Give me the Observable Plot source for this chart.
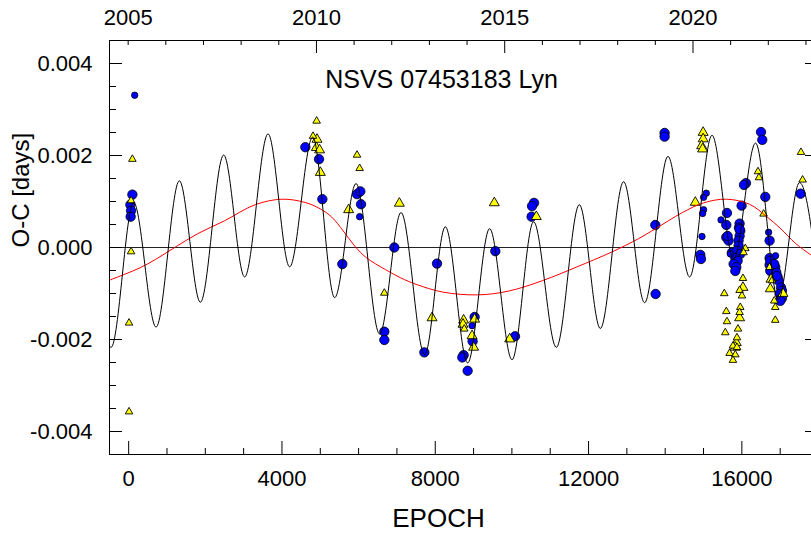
<!DOCTYPE html>
<html>
<head>
<meta charset="utf-8">
<script src="https://cdn.jsdelivr.net/npm/d3@7"></script>
<script src="https://cdn.jsdelivr.net/npm/@observablehq/plot@0.6"></script>
<style>
  html, body { margin: 0; padding: 0; background: #fff; }
  #chart svg { display: block; }
</style>
</head>
<body>
<div id="chart"></div>
<script>
// O-C diagram of NSVS 07453183 Lyn: [epoch, O-C in days]

// primary minima, main observations
const primaryMain = [
  [97, 0.00115], [44, 0.00093], [63, 0.00080], [52, 0.00067],
  [4610, 0.00218], [4967, 0.00192], [5054, 0.00105],
  [5959, 0.00116], [6045, 0.00122], [6063, 0.00094],
  [5575, -0.00036], [6671, -0.00183], [6671, -0.00201],
  [6932, 0.00000], [9567, -0.00008],
  [10577, 0.00097], [10525, 0.00090], [10514, 0.00067],
  [13742, 0.00049], [13984, 0.00249], [13984, 0.00241],
  [8046, -0.00035], [7715, -0.00228], [9027, -0.00151], [8975, -0.00204],
  [8740, -0.00234], [8706, -0.00239], [8845, -0.00268],
  [10081, -0.00193], [13750, -0.00101],
  [16500, 0.00251], [16533, 0.00234], [17533, 0.00117], [16611, 0.00110],
  [16108, 0.00140], [16056, 0.00136], [15993, 0.00091],
  [15612, 0.00075], [15594, 0.00049], [15941, 0.00052], [15925, 0.00043],
  [14916, -0.00016], [14934, -0.00025], [16724, 0.00015],
  [15959, 0.00036], [15941, 0.00025], [15915, 0.00015], [15594, 0.00022],
  [15654, 0.00015], [15915, 0.00004], [15742, -0.00011], [15873, -0.00007],
  [15959, -0.00014], [15829, -0.00023], [15889, -0.00029], [15785, -0.00036],
  [15855, -0.00043], [15829, -0.00051], [15941, 0.00040], [15628, 0.00025],
  [16724, -0.00023], [16786, -0.00033], [16724, -0.00038], [16872, -0.00043],
  [16742, -0.00051], [16898, -0.00054], [16932, -0.00064], [16828, -0.00065],
  [16959, -0.00072], [17021, -0.00087], [17047, -0.00094], [16985, -0.00101],
  [17047, -0.00110], [17003, -0.00116], [16742, -0.00029], [16846, -0.00036],
  [16916, -0.00062]
];

// primary minima, lower weight
const primaryLow = [
  [157, 0.00331], [6027, 0.00067], [8960, -0.00170], [15072, 0.00118],
  [15002, 0.00109], [15002, 0.00082], [14976, 0.00074], [15456, 0.00060],
  [14960, 0.00024], [16698, 0.00033], [16880, -0.00018], [15698, -0.00014]
];

// secondary minima, main observations
const secondaryMain = [
  [4915, 0.00235], [4897, 0.00217], [4983, 0.00212], [5001, 0.00163],
  [5740, 0.00082], [7063, 0.00096], [9541, 0.00097], [10637, 0.00067],
  [7916, -0.00153], [8740, -0.00158], [8724, -0.00167], [9027, -0.00156],
  [8960, -0.00192], [9001, -0.00217], [9941, -0.00199],
  [14990, 0.00250], [14990, 0.00236], [14950, 0.00221], [14976, 0.00214],
  [14785, 0.00098], [16760, -0.00069], [16742, -0.00090], [17073, -0.00100],
  [16029, -0.00087], [15941, -0.00153], [15855, -0.00207], [15829, -0.00217]
];

// secondary minima, lower weight
const secondaryLow = [
  [97, 0.00192], [63, 0.00102], [63, -0.00009], [10, -0.00164], [10, -0.00357],
  [4905, 0.00275], [4811, 0.00242], [5959, 0.00201], [6027, 0.00172],
  [6671, -0.00099], [8758, -0.00177], [17543, 0.00207], [17585, 0.00147],
  [16421, 0.00165], [16447, 0.00152], [16567, 0.00073], [16090, -0.00002],
  [16045, -0.00011], [16029, -0.00067], [15941, -0.00093], [16003, -0.00105],
  [15542, -0.00100], [15594, -0.00139], [15612, -0.00161], [15568, -0.00185],
  [15959, -0.00130], [15941, -0.00141], [15899, -0.00177], [15873, -0.00196],
  [15768, -0.00214], [15873, -0.00217], [15680, -0.00230], [15829, -0.00233],
  [15768, -0.00245], [16872, -0.00130], [16872, -0.00158], [16846, -0.00116],
  [16724, -0.00043], [16786, -0.00072]
];

// full model: turning points of the combined fit
const fullFit = [
  [-500, -0.00215], [-459, -0.00217], [130, 0.00098], [715, -0.00173],
  [1323, 0.00145], [1871, -0.00119], [2479, 0.00201], [3026, -0.00064],
  [3637, 0.00247], [4200, -0.00042], [4802, 0.00240], [5375, -0.00109],
  [5933, 0.00139], [6549, -0.00188], [7107, 0.00076], [7723, -0.00233],
  [8263, 0.00045], [8845, -0.00251], [9419, 0.00041], [10003, -0.00244],
  [10566, 0.00056], [11159, -0.00217], [11759, 0.00093], [12307, -0.00176],
  [12915, 0.00143], [13462, -0.00120], [14073, 0.00198], [14637, -0.00064],
  [15221, 0.00244], [15785, -0.00025], [16358, 0.00227], [16950, -0.00113],
  [17506, 0.00141], [18100, -0.00160]
];

// light-time effect term
const lteFit = [
  [-500, -0.00071], [-100, -0.00058], [300, -0.00044], [700, -0.00026],
  [1200, 0.00000], [1800, 0.00030], [2500, 0.00058], [3300, 0.00093],
  [4000, 0.00105], [4600, 0.00098], [5000, 0.00084], [5300, 0.00066],
  [5600, 0.00036], [5900, 0.00003], [6200, -0.00022], [6700, -0.00048],
  [7100, -0.00066], [7500, -0.00080], [8200, -0.00097], [9100, -0.00103],
  [9900, -0.00095], [10800, -0.00072], [11700, -0.00042], [12600, -0.00010],
  [13300, 0.00019], [13750, 0.00041], [14450, 0.00076], [15000, 0.00097],
  [15600, 0.00105], [16200, 0.00094], [16650, 0.00067], [17000, 0.00042],
  [17400, 0.00009], [17800, -0.00016], [18000, -0.00026]
];

// axis ticks and labels
const epochLabels = [0, 4000, 8000, 12000, 16000];
const ocLabels = [-0.004, -0.002, 0, 0.002, 0.004];
const yearLabels = [2005, 2010, 2015, 2020];
const yearMajor = [2010, 2015, 2020];

// ephemeris used for the calendar axis
const yearAtEpochZero = 2005.0133;
const periodDays = 0.37174;
const yearToEpoch = y => (y - yearAtEpochZero) * 365.25 / periodDays;

const W = 811, H = 533;
const M = {top: 40, right: -7, bottom: 79, left: 109};
const innerW = W - M.left - M.right;
const innerH = H - M.top - M.bottom;

const epochMinor = d3.range(0, 18001, 1000).filter(e => !epochLabels.includes(e));
const ocMinor = d3.range(-7, 8).map(k => k * 0.0005).filter(v => Math.abs(v) > 1e-9 && Math.abs(Math.round(v / 0.002) * 0.002 - v) > 1e-9);
const yearMinor = d3.range(2005, 2024).filter(y => !yearMajor.includes(y));

const px = d => d[0], py = d => d[1];
const font = "'Liberation Sans', Arial, Helvetica, sans-serif";

const chart = Plot.plot({
  width: W,
  height: H,
  marginTop: M.top,
  marginRight: M.right,
  marginBottom: M.bottom,
  marginLeft: M.left,
  style: {fontFamily: font, fontSize: "22px", color: "black", background: "white"},
  x: {domain: [-500, 18000], axis: null},
  y: {domain: [-0.0045, 0.0045], axis: null},
  marks: [
    Plot.ruleY([0], {stroke: "#222", strokeWidth: 1}),

    Plot.dot(primaryMain, {x: px, y: py, r: 4.7, fill: "#0000ff", stroke: "black", strokeWidth: 0.8}),
    Plot.dot(primaryLow, {x: px, y: py, r: 3.2, fill: "#0000ff", stroke: "black", strokeWidth: 0.8}),
    Plot.dot(secondaryMain, {x: px, y: py, symbol: "triangle", r: 3.7, fill: "#ffff00", stroke: "black", strokeWidth: 0.9}),
    Plot.dot(secondaryLow, {x: px, y: py, symbol: "triangle", r: 2.8, fill: "#ffff00", stroke: "black", strokeWidth: 0.9}),

    Plot.line(lteFit, {x: px, y: py, curve: "catmull-rom", stroke: "#ff0000", strokeWidth: 1, clip: true}),
    Plot.line(fullFit, {x: px, y: py, curve: "monotone-x", stroke: "black", strokeWidth: 1, clip: true}),

    // inward ticks: bottom (epoch), top (calendar year), left and right (O-C)
    Plot.ruleX(epochMinor, {x: d => d, insetTop: innerH - 6, stroke: "black"}),
    Plot.ruleX(epochLabels, {x: d => d, insetTop: innerH - 13, stroke: "black"}),
    Plot.ruleX(yearMinor, {x: yearToEpoch, insetBottom: innerH - 5, stroke: "black"}),
    Plot.ruleX(yearMajor, {x: yearToEpoch, insetBottom: innerH - 13, stroke: "black"}),
    Plot.ruleY(ocMinor, {y: d => d, insetRight: innerW - 7, stroke: "black"}),
    Plot.ruleY(ocLabels, {y: d => d, insetRight: innerW - 13, stroke: "black"}),
    Plot.ruleY(ocMinor, {y: d => d, insetLeft: innerW - 7, stroke: "black"}),
    Plot.ruleY(ocLabels, {y: d => d, insetLeft: innerW - 13, stroke: "black"}),

    Plot.axisX(epochLabels, {anchor: "bottom", tickSize: 0, tickPadding: 16, fontSize: 22, tickFormat: d3.format("d"), label: null}),
    Plot.axisX(yearLabels.map(yearToEpoch), {anchor: "top", tickSize: 0, tickPadding: 16, fontSize: 22,
      tickFormat: d => String(yearLabels[yearLabels.map(yearToEpoch).indexOf(d)]), label: null}),
    Plot.axisY(ocLabels, {anchor: "left", tickSize: 0, tickPadding: 17, fontSize: 22, tickFormat: d => d.toFixed(3), label: null}),

    Plot.text(["EPOCH"], {frameAnchor: "bottom", lineAnchor: "bottom", dx: -25.5, dy: 72.5, fontSize: 26, fill: "black"}),
    Plot.text(["O-C [days]"], {frameAnchor: "left", rotate: -90, dx: -88, fontSize: 24, fill: "black"}),
    Plot.text(["NSVS 07453183 Lyn"], {frameAnchor: "top", lineAnchor: "bottom", dx: -22.5, dy: 47.3, fontSize: 25, fill: "black"}),

    Plot.frame({stroke: "black", strokeWidth: 1})
  ]
});

document.getElementById("chart").appendChild(chart);
</script>
</body>
</html>
